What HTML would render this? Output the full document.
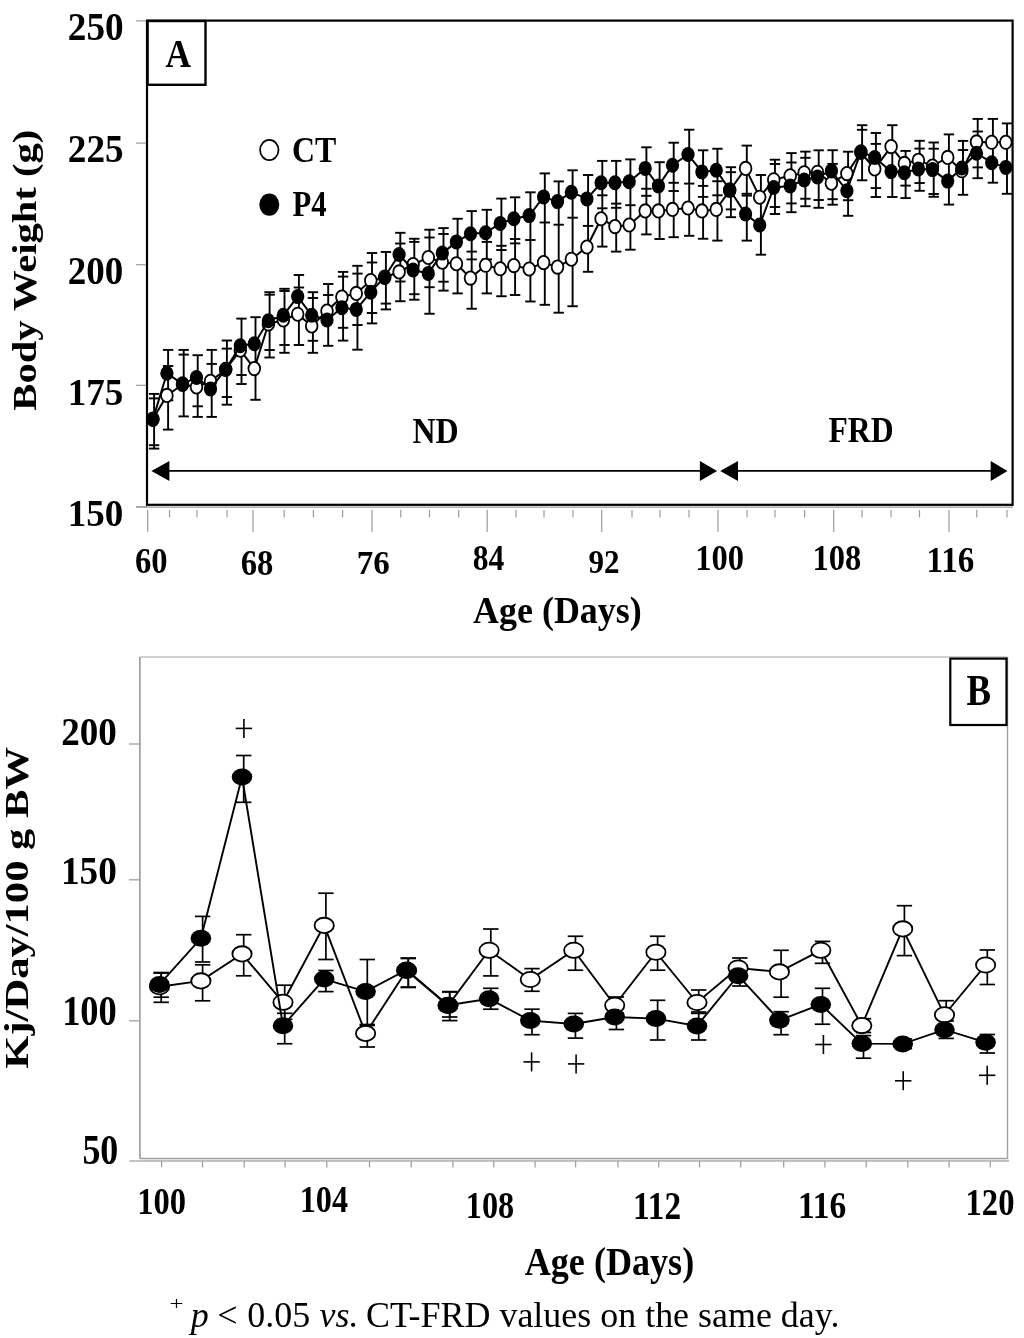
<!DOCTYPE html>
<html><head><meta charset="utf-8"><style>
html,body{margin:0;padding:0;background:#fff;}
svg{display:block;will-change:transform;}
text{font-family:"Liberation Serif",serif;fill:#000;}
</style></head><body>
<svg width="1024" height="1338" viewBox="0 0 1024 1338">
<g stroke="#9c9c9c" stroke-width="1.2" fill="none">
<line x1="136" y1="507.1" x2="1013" y2="507.1"/>
<line x1="136" y1="20.9" x2="147" y2="20.9"/>
<line x1="136" y1="143.1" x2="147" y2="143.1"/>
<line x1="136" y1="264.7" x2="147" y2="264.7"/>
<line x1="136" y1="385.3" x2="147" y2="385.3"/>
<line x1="136" y1="506.8" x2="147" y2="506.8"/>
<line x1="147.7" y1="510" x2="147.7" y2="532"/>
<line x1="253" y1="510" x2="253" y2="532"/>
<line x1="372" y1="510" x2="372" y2="532"/>
<line x1="487.2" y1="510" x2="487.2" y2="532"/>
<line x1="601.7" y1="510" x2="601.7" y2="532"/>
<line x1="718" y1="510" x2="718" y2="532"/>
<line x1="833.7" y1="510" x2="833.7" y2="532"/>
<line x1="949" y1="510" x2="949" y2="532"/>
<line x1="169.5" y1="510" x2="169.5" y2="517.5"/>
<line x1="197" y1="510" x2="197" y2="517.5"/>
<line x1="227" y1="510" x2="227" y2="517.5"/>
<line x1="284.2" y1="510" x2="284.2" y2="517.5"/>
<line x1="313.4" y1="510" x2="313.4" y2="517.5"/>
<line x1="342.6" y1="510" x2="342.6" y2="517.5"/>
<line x1="400.8" y1="510" x2="400.8" y2="517.5"/>
<line x1="429.5" y1="510" x2="429.5" y2="517.5"/>
<line x1="458.7" y1="510" x2="458.7" y2="517.5"/>
<line x1="516" y1="510" x2="516" y2="517.5"/>
<line x1="544" y1="510" x2="544" y2="517.5"/>
<line x1="573" y1="510" x2="573" y2="517.5"/>
<line x1="632" y1="510" x2="632" y2="517.5"/>
<line x1="660" y1="510" x2="660" y2="517.5"/>
<line x1="689" y1="510" x2="689" y2="517.5"/>
<line x1="747" y1="510" x2="747" y2="517.5"/>
<line x1="775" y1="510" x2="775" y2="517.5"/>
<line x1="804.6" y1="510" x2="804.6" y2="517.5"/>
<line x1="862" y1="510" x2="862" y2="517.5"/>
<line x1="891" y1="510" x2="891" y2="517.5"/>
<line x1="919.5" y1="510" x2="919.5" y2="517.5"/>
<line x1="976.8" y1="510" x2="976.8" y2="517.5"/>
<line x1="1007" y1="510" x2="1007" y2="517.5"/>
</g>
<rect x="147" y="20.6" width="865.6" height="484.2" fill="none" stroke="#000" stroke-width="2.2"/>
<rect x="147.6" y="21" width="57.9" height="63.8" fill="none" stroke="#000" stroke-width="2.4"/>
<ellipse cx="269.3" cy="150" rx="9.2" ry="10.1" fill="#fff" stroke="#000" stroke-width="1.7"/>
<ellipse cx="269.3" cy="204.6" rx="10" ry="11.2" fill="#000"/>
<g stroke="#000" stroke-width="1.8">
<line x1="165" y1="470.9" x2="702" y2="470.9"/>
<line x1="735" y1="470.9" x2="993" y2="470.9"/>
</g>
<g fill="#000">
<polygon points="151.4,470.9 169.4,461 169.4,481"/>
<polygon points="717.1,470.9 699.9,461.1 699.9,481"/>
<polygon points="720.2,470.9 738,461.1 738,481"/>
<polygon points="1007.5,470.9 990.7,461.1 990.7,481"/>
</g>
<g stroke="#000" stroke-width="1.9" fill="none">
<line x1="154.1" y1="393.9" x2="154.1" y2="448.6"/>
<line x1="148.9" y1="393.9" x2="159.29999999999998" y2="393.9"/>
<line x1="148.9" y1="398.4" x2="159.29999999999998" y2="398.4"/>
<line x1="148.9" y1="445.2" x2="159.29999999999998" y2="445.2"/>
<line x1="148.9" y1="448.6" x2="159.29999999999998" y2="448.6"/>
<line x1="168.1" y1="349.9" x2="168.1" y2="429.6"/>
<line x1="162.9" y1="349.9" x2="173.29999999999998" y2="349.9"/>
<line x1="162.9" y1="366" x2="173.29999999999998" y2="366"/>
<line x1="162.9" y1="400.3" x2="173.29999999999998" y2="400.3"/>
<line x1="162.9" y1="429.6" x2="173.29999999999998" y2="429.6"/>
<line x1="183.7" y1="349.9" x2="183.7" y2="416.4"/>
<line x1="178.5" y1="349.9" x2="188.89999999999998" y2="349.9"/>
<line x1="178.5" y1="354.6" x2="188.89999999999998" y2="354.6"/>
<line x1="178.5" y1="416.4" x2="188.89999999999998" y2="416.4"/>
<line x1="197.7" y1="355.2" x2="197.7" y2="416.9"/>
<line x1="192.5" y1="355.2" x2="202.89999999999998" y2="355.2"/>
<line x1="192.5" y1="406.3" x2="202.89999999999998" y2="406.3"/>
<line x1="192.5" y1="416.9" x2="202.89999999999998" y2="416.9"/>
<line x1="211.7" y1="349.9" x2="211.7" y2="416.9"/>
<line x1="206.5" y1="349.9" x2="216.89999999999998" y2="349.9"/>
<line x1="206.5" y1="363.9" x2="216.89999999999998" y2="363.9"/>
<line x1="206.5" y1="416.9" x2="216.89999999999998" y2="416.9"/>
<line x1="226.89999999999998" y1="340.5" x2="226.89999999999998" y2="404.7"/>
<line x1="221.7" y1="340.5" x2="232.09999999999997" y2="340.5"/>
<line x1="221.7" y1="348.6" x2="232.09999999999997" y2="348.6"/>
<line x1="221.7" y1="397" x2="232.09999999999997" y2="397"/>
<line x1="221.7" y1="404.7" x2="232.09999999999997" y2="404.7"/>
<line x1="241.5" y1="318.6" x2="241.5" y2="384.0"/>
<line x1="236.3" y1="318.6" x2="246.7" y2="318.6"/>
<line x1="236.3" y1="347" x2="246.7" y2="347"/>
<line x1="236.3" y1="375.0" x2="246.7" y2="375.0"/>
<line x1="236.3" y1="384.0" x2="246.7" y2="384.0"/>
<line x1="255.5" y1="317.2" x2="255.5" y2="399.8"/>
<line x1="250.3" y1="317.2" x2="260.7" y2="317.2"/>
<line x1="250.3" y1="399.8" x2="260.7" y2="399.8"/>
<line x1="269.59999999999997" y1="292.2" x2="269.59999999999997" y2="357.5"/>
<line x1="264.4" y1="292.2" x2="274.79999999999995" y2="292.2"/>
<line x1="264.4" y1="294.7" x2="274.79999999999995" y2="294.7"/>
<line x1="264.4" y1="350" x2="274.79999999999995" y2="350"/>
<line x1="264.4" y1="357.5" x2="274.79999999999995" y2="357.5"/>
<line x1="284.5" y1="288.8" x2="284.5" y2="352.8"/>
<line x1="279.3" y1="288.8" x2="289.7" y2="288.8"/>
<line x1="279.3" y1="291" x2="289.7" y2="291"/>
<line x1="279.3" y1="345" x2="289.7" y2="345"/>
<line x1="279.3" y1="352.8" x2="289.7" y2="352.8"/>
<line x1="298.9" y1="275" x2="298.9" y2="345"/>
<line x1="293.7" y1="275" x2="304.09999999999997" y2="275"/>
<line x1="293.7" y1="287.5" x2="304.09999999999997" y2="287.5"/>
<line x1="293.7" y1="345" x2="304.09999999999997" y2="345"/>
<line x1="312.9" y1="292.2" x2="312.9" y2="352.8"/>
<line x1="307.7" y1="292.2" x2="318.09999999999997" y2="292.2"/>
<line x1="307.7" y1="298" x2="318.09999999999997" y2="298"/>
<line x1="307.7" y1="340.8" x2="318.09999999999997" y2="340.8"/>
<line x1="307.7" y1="352.8" x2="318.09999999999997" y2="352.8"/>
<line x1="328.2" y1="284" x2="328.2" y2="345.8"/>
<line x1="323.0" y1="284" x2="333.4" y2="284"/>
<line x1="323.0" y1="295" x2="333.4" y2="295"/>
<line x1="323.0" y1="345.8" x2="333.4" y2="345.8"/>
<line x1="343.09999999999997" y1="271.9" x2="343.09999999999997" y2="340.6"/>
<line x1="337.9" y1="271.9" x2="348.29999999999995" y2="271.9"/>
<line x1="337.9" y1="276.6" x2="348.29999999999995" y2="276.6"/>
<line x1="337.9" y1="327.8" x2="348.29999999999995" y2="327.8"/>
<line x1="337.9" y1="340.6" x2="348.29999999999995" y2="340.6"/>
<line x1="357.45" y1="265.8" x2="357.45" y2="349.7"/>
<line x1="352.25" y1="265.8" x2="362.65" y2="265.8"/>
<line x1="352.25" y1="273.6" x2="362.65" y2="273.6"/>
<line x1="352.25" y1="325" x2="362.65" y2="325"/>
<line x1="352.25" y1="349.7" x2="362.65" y2="349.7"/>
<line x1="372.0" y1="253" x2="372.0" y2="323.4"/>
<line x1="366.8" y1="253" x2="377.2" y2="253"/>
<line x1="366.8" y1="262.5" x2="377.2" y2="262.5"/>
<line x1="366.8" y1="313" x2="377.2" y2="313"/>
<line x1="366.8" y1="323.4" x2="377.2" y2="323.4"/>
<line x1="385.9" y1="252" x2="385.9" y2="309.4"/>
<line x1="380.7" y1="252" x2="391.09999999999997" y2="252"/>
<line x1="380.7" y1="303.6" x2="391.09999999999997" y2="303.6"/>
<line x1="380.7" y1="309.4" x2="391.09999999999997" y2="309.4"/>
<line x1="400.3" y1="232.8" x2="400.3" y2="301.25"/>
<line x1="395.1" y1="232.8" x2="405.5" y2="232.8"/>
<line x1="395.1" y1="243.5" x2="405.5" y2="243.5"/>
<line x1="395.1" y1="281.5" x2="405.5" y2="281.5"/>
<line x1="395.1" y1="301.25" x2="405.5" y2="301.25"/>
<line x1="414.3" y1="238.75" x2="414.3" y2="299.7"/>
<line x1="409.1" y1="238.75" x2="419.5" y2="238.75"/>
<line x1="409.1" y1="241.9" x2="419.5" y2="241.9"/>
<line x1="409.1" y1="294.2" x2="419.5" y2="294.2"/>
<line x1="409.1" y1="299.7" x2="419.5" y2="299.7"/>
<line x1="429.5" y1="229.7" x2="429.5" y2="313.75"/>
<line x1="424.3" y1="229.7" x2="434.7" y2="229.7"/>
<line x1="424.3" y1="237.5" x2="434.7" y2="237.5"/>
<line x1="424.3" y1="287.2" x2="434.7" y2="287.2"/>
<line x1="424.3" y1="313.75" x2="434.7" y2="313.75"/>
<line x1="443.5" y1="228.1" x2="443.5" y2="290.6"/>
<line x1="438.3" y1="228.1" x2="448.7" y2="228.1"/>
<line x1="438.3" y1="234" x2="448.7" y2="234"/>
<line x1="438.3" y1="281.7" x2="448.7" y2="281.7"/>
<line x1="438.3" y1="290.6" x2="448.7" y2="290.6"/>
<line x1="457.59999999999997" y1="218.75" x2="457.59999999999997" y2="293.4"/>
<line x1="452.4" y1="218.75" x2="462.79999999999995" y2="218.75"/>
<line x1="452.4" y1="293.4" x2="462.79999999999995" y2="293.4"/>
<line x1="471.7" y1="211.1" x2="471.7" y2="308.75"/>
<line x1="466.5" y1="211.1" x2="476.9" y2="211.1"/>
<line x1="466.5" y1="251.6" x2="476.9" y2="251.6"/>
<line x1="466.5" y1="259.4" x2="476.9" y2="259.4"/>
<line x1="466.5" y1="308.75" x2="476.9" y2="308.75"/>
<line x1="486.8" y1="209.8" x2="486.8" y2="293.4"/>
<line x1="481.6" y1="209.8" x2="492.0" y2="209.8"/>
<line x1="481.6" y1="241.9" x2="492.0" y2="241.9"/>
<line x1="481.6" y1="259.4" x2="492.0" y2="259.4"/>
<line x1="481.6" y1="293.4" x2="492.0" y2="293.4"/>
<line x1="501.4" y1="198.6" x2="501.4" y2="296.25"/>
<line x1="496.2" y1="198.6" x2="506.59999999999997" y2="198.6"/>
<line x1="496.2" y1="245.8" x2="506.59999999999997" y2="245.8"/>
<line x1="496.2" y1="250" x2="506.59999999999997" y2="250"/>
<line x1="496.2" y1="296.25" x2="506.59999999999997" y2="296.25"/>
<line x1="515.1" y1="197.3" x2="515.1" y2="295"/>
<line x1="509.90000000000003" y1="197.3" x2="520.3000000000001" y2="197.3"/>
<line x1="509.90000000000003" y1="239" x2="520.3000000000001" y2="239"/>
<line x1="509.90000000000003" y1="243.4" x2="520.3000000000001" y2="243.4"/>
<line x1="509.90000000000003" y1="295" x2="520.3000000000001" y2="295"/>
<line x1="530.4000000000001" y1="192.3" x2="530.4000000000001" y2="301.5"/>
<line x1="525.2" y1="192.3" x2="535.6000000000001" y2="192.3"/>
<line x1="525.2" y1="240" x2="535.6000000000001" y2="240"/>
<line x1="525.2" y1="301.5" x2="535.6000000000001" y2="301.5"/>
<line x1="544.8000000000001" y1="173.4" x2="544.8000000000001" y2="304.8"/>
<line x1="539.6" y1="173.4" x2="550.0000000000001" y2="173.4"/>
<line x1="539.6" y1="222.5" x2="550.0000000000001" y2="222.5"/>
<line x1="539.6" y1="304.8" x2="550.0000000000001" y2="304.8"/>
<line x1="558.7" y1="181.4" x2="558.7" y2="312.7"/>
<line x1="553.5" y1="181.4" x2="563.9000000000001" y2="181.4"/>
<line x1="553.5" y1="224.7" x2="563.9000000000001" y2="224.7"/>
<line x1="553.5" y1="312.7" x2="563.9000000000001" y2="312.7"/>
<line x1="572.6" y1="170.3" x2="572.6" y2="306.25"/>
<line x1="567.4" y1="170.3" x2="577.8000000000001" y2="170.3"/>
<line x1="567.4" y1="217.7" x2="577.8000000000001" y2="217.7"/>
<line x1="567.4" y1="306.25" x2="577.8000000000001" y2="306.25"/>
<line x1="588.1" y1="175" x2="588.1" y2="271.8"/>
<line x1="582.9" y1="175" x2="593.3000000000001" y2="175"/>
<line x1="582.9" y1="225.9" x2="593.3000000000001" y2="225.9"/>
<line x1="582.9" y1="271.8" x2="593.3000000000001" y2="271.8"/>
<line x1="602.3000000000001" y1="160.9" x2="602.3000000000001" y2="246.6"/>
<line x1="597.1" y1="160.9" x2="607.5000000000001" y2="160.9"/>
<line x1="597.1" y1="195.3" x2="607.5000000000001" y2="195.3"/>
<line x1="597.1" y1="208.3" x2="607.5000000000001" y2="208.3"/>
<line x1="597.1" y1="246.6" x2="607.5000000000001" y2="246.6"/>
<line x1="616.2" y1="160.9" x2="616.2" y2="251.6"/>
<line x1="611.0" y1="160.9" x2="621.4000000000001" y2="160.9"/>
<line x1="611.0" y1="203.6" x2="621.4000000000001" y2="203.6"/>
<line x1="611.0" y1="207.8" x2="621.4000000000001" y2="207.8"/>
<line x1="611.0" y1="251.6" x2="621.4000000000001" y2="251.6"/>
<line x1="630.4000000000001" y1="159.4" x2="630.4000000000001" y2="249.7"/>
<line x1="625.2" y1="159.4" x2="635.6000000000001" y2="159.4"/>
<line x1="625.2" y1="205.2" x2="635.6000000000001" y2="205.2"/>
<line x1="625.2" y1="249.7" x2="635.6000000000001" y2="249.7"/>
<line x1="646.4000000000001" y1="147.3" x2="646.4000000000001" y2="234.4"/>
<line x1="641.2" y1="147.3" x2="651.6000000000001" y2="147.3"/>
<line x1="641.2" y1="188.75" x2="651.6000000000001" y2="188.75"/>
<line x1="641.2" y1="195.8" x2="651.6000000000001" y2="195.8"/>
<line x1="641.2" y1="234.4" x2="651.6000000000001" y2="234.4"/>
<line x1="659.6" y1="162.2" x2="659.6" y2="239"/>
<line x1="654.4" y1="162.2" x2="664.8000000000001" y2="162.2"/>
<line x1="654.4" y1="239" x2="664.8000000000001" y2="239"/>
<line x1="673.7" y1="142.7" x2="673.7" y2="237.2"/>
<line x1="668.5" y1="142.7" x2="678.9000000000001" y2="142.7"/>
<line x1="668.5" y1="182.8" x2="678.9000000000001" y2="182.8"/>
<line x1="668.5" y1="191" x2="678.9000000000001" y2="191"/>
<line x1="668.5" y1="237.2" x2="678.9000000000001" y2="237.2"/>
<line x1="689.2" y1="129.7" x2="689.2" y2="235.8"/>
<line x1="684.0" y1="129.7" x2="694.4000000000001" y2="129.7"/>
<line x1="684.0" y1="183.6" x2="694.4000000000001" y2="183.6"/>
<line x1="684.0" y1="235.8" x2="694.4000000000001" y2="235.8"/>
<line x1="703.1" y1="150.3" x2="703.1" y2="238.75"/>
<line x1="697.9" y1="150.3" x2="708.3000000000001" y2="150.3"/>
<line x1="697.9" y1="185.9" x2="708.3000000000001" y2="185.9"/>
<line x1="697.9" y1="196.9" x2="708.3000000000001" y2="196.9"/>
<line x1="697.9" y1="238.75" x2="708.3000000000001" y2="238.75"/>
<line x1="717.45" y1="148.75" x2="717.45" y2="240.6"/>
<line x1="712.25" y1="148.75" x2="722.6500000000001" y2="148.75"/>
<line x1="712.25" y1="181.25" x2="722.6500000000001" y2="181.25"/>
<line x1="712.25" y1="195.3" x2="722.6500000000001" y2="195.3"/>
<line x1="712.25" y1="240.6" x2="722.6500000000001" y2="240.6"/>
<line x1="730.9000000000001" y1="167.2" x2="730.9000000000001" y2="217.2"/>
<line x1="725.7" y1="167.2" x2="736.1000000000001" y2="167.2"/>
<line x1="725.7" y1="172.2" x2="736.1000000000001" y2="172.2"/>
<line x1="725.7" y1="209.4" x2="736.1000000000001" y2="209.4"/>
<line x1="725.7" y1="217.2" x2="736.1000000000001" y2="217.2"/>
<line x1="746.8000000000001" y1="145.6" x2="746.8000000000001" y2="240.6"/>
<line x1="741.6" y1="145.6" x2="752.0000000000001" y2="145.6"/>
<line x1="741.6" y1="193.75" x2="752.0000000000001" y2="193.75"/>
<line x1="741.6" y1="195.6" x2="752.0000000000001" y2="195.6"/>
<line x1="741.6" y1="240.6" x2="752.0000000000001" y2="240.6"/>
<line x1="760.9000000000001" y1="175" x2="760.9000000000001" y2="254.7"/>
<line x1="755.7" y1="175" x2="766.1000000000001" y2="175"/>
<line x1="755.7" y1="254.7" x2="766.1000000000001" y2="254.7"/>
<line x1="774.95" y1="159.7" x2="774.95" y2="214"/>
<line x1="769.75" y1="159.7" x2="780.1500000000001" y2="159.7"/>
<line x1="769.75" y1="164" x2="780.1500000000001" y2="164"/>
<line x1="769.75" y1="207" x2="780.1500000000001" y2="207"/>
<line x1="769.75" y1="214" x2="780.1500000000001" y2="214"/>
<line x1="791.4000000000001" y1="153.1" x2="791.4000000000001" y2="212.2"/>
<line x1="786.2" y1="153.1" x2="796.6000000000001" y2="153.1"/>
<line x1="786.2" y1="162.5" x2="796.6000000000001" y2="162.5"/>
<line x1="786.2" y1="203.4" x2="796.6000000000001" y2="203.4"/>
<line x1="786.2" y1="212.2" x2="796.6000000000001" y2="212.2"/>
<line x1="805.4000000000001" y1="151.6" x2="805.4000000000001" y2="206.25"/>
<line x1="800.2" y1="151.6" x2="810.6000000000001" y2="151.6"/>
<line x1="800.2" y1="157.8" x2="810.6000000000001" y2="157.8"/>
<line x1="800.2" y1="198.75" x2="810.6000000000001" y2="198.75"/>
<line x1="800.2" y1="206.25" x2="810.6000000000001" y2="206.25"/>
<line x1="818.7" y1="150.3" x2="818.7" y2="207.8"/>
<line x1="813.5" y1="150.3" x2="823.9000000000001" y2="150.3"/>
<line x1="813.5" y1="200" x2="823.9000000000001" y2="200"/>
<line x1="813.5" y1="207.8" x2="823.9000000000001" y2="207.8"/>
<line x1="832.6" y1="150.2" x2="832.6" y2="204.7"/>
<line x1="827.4" y1="150.2" x2="837.8000000000001" y2="150.2"/>
<line x1="827.4" y1="163.9" x2="837.8000000000001" y2="163.9"/>
<line x1="827.4" y1="199.2" x2="837.8000000000001" y2="199.2"/>
<line x1="827.4" y1="204.7" x2="837.8000000000001" y2="204.7"/>
<line x1="848.1" y1="151.7" x2="848.1" y2="215.8"/>
<line x1="842.9" y1="151.7" x2="853.3000000000001" y2="151.7"/>
<line x1="842.9" y1="200.2" x2="853.3000000000001" y2="200.2"/>
<line x1="842.9" y1="215.8" x2="853.3000000000001" y2="215.8"/>
<line x1="862.1" y1="125.2" x2="862.1" y2="180.3"/>
<line x1="856.9" y1="125.2" x2="867.3000000000001" y2="125.2"/>
<line x1="856.9" y1="129.8" x2="867.3000000000001" y2="129.8"/>
<line x1="856.9" y1="180.3" x2="867.3000000000001" y2="180.3"/>
<line x1="875.9000000000001" y1="133" x2="875.9000000000001" y2="197"/>
<line x1="870.7" y1="133" x2="881.1000000000001" y2="133"/>
<line x1="870.7" y1="143.9" x2="881.1000000000001" y2="143.9"/>
<line x1="870.7" y1="188.1" x2="881.1000000000001" y2="188.1"/>
<line x1="870.7" y1="197" x2="881.1000000000001" y2="197"/>
<line x1="892.3000000000001" y1="125.2" x2="892.3000000000001" y2="197"/>
<line x1="887.1" y1="125.2" x2="897.5000000000001" y2="125.2"/>
<line x1="887.1" y1="197" x2="897.5000000000001" y2="197"/>
<line x1="905.6" y1="150.9" x2="905.6" y2="198.1"/>
<line x1="900.4" y1="150.9" x2="910.8000000000001" y2="150.9"/>
<line x1="900.4" y1="185.6" x2="910.8000000000001" y2="185.6"/>
<line x1="900.4" y1="198.1" x2="910.8000000000001" y2="198.1"/>
<line x1="919.6" y1="140.8" x2="919.6" y2="190.8"/>
<line x1="914.4" y1="140.8" x2="924.8000000000001" y2="140.8"/>
<line x1="914.4" y1="148.6" x2="924.8000000000001" y2="148.6"/>
<line x1="914.4" y1="183" x2="924.8000000000001" y2="183"/>
<line x1="914.4" y1="190.8" x2="924.8000000000001" y2="190.8"/>
<line x1="933.7" y1="142.5" x2="933.7" y2="196.8"/>
<line x1="928.5" y1="142.5" x2="938.9000000000001" y2="142.5"/>
<line x1="928.5" y1="148.7" x2="938.9000000000001" y2="148.7"/>
<line x1="928.5" y1="194" x2="938.9000000000001" y2="194"/>
<line x1="928.5" y1="196.8" x2="938.9000000000001" y2="196.8"/>
<line x1="948.9000000000001" y1="134.4" x2="948.9000000000001" y2="204.6"/>
<line x1="943.7" y1="134.4" x2="954.1000000000001" y2="134.4"/>
<line x1="943.7" y1="204.6" x2="954.1000000000001" y2="204.6"/>
<line x1="963.0" y1="140.9" x2="963.0" y2="194.8"/>
<line x1="957.8" y1="140.9" x2="968.2" y2="140.9"/>
<line x1="957.8" y1="150" x2="968.2" y2="150"/>
<line x1="957.8" y1="194.8" x2="968.2" y2="194.8"/>
<line x1="977.7" y1="118.9" x2="977.7" y2="178.2"/>
<line x1="972.5" y1="118.9" x2="982.9000000000001" y2="118.9"/>
<line x1="972.5" y1="131.5" x2="982.9000000000001" y2="131.5"/>
<line x1="972.5" y1="167.4" x2="982.9000000000001" y2="167.4"/>
<line x1="972.5" y1="178.2" x2="982.9000000000001" y2="178.2"/>
<line x1="992.9000000000001" y1="118.9" x2="992.9000000000001" y2="182.7"/>
<line x1="987.7" y1="118.9" x2="998.1000000000001" y2="118.9"/>
<line x1="987.7" y1="182.7" x2="998.1000000000001" y2="182.7"/>
<line x1="1007.0" y1="123.4" x2="1007.0" y2="193.8"/>
<line x1="1001.8" y1="123.4" x2="1012.2" y2="123.4"/>
<line x1="1001.8" y1="193.8" x2="1012.2" y2="193.8"/>
</g>
<polyline points="152.9,419.0 166.9,395.4 182.5,384.5 196.5,387 210.5,381.3 225.7,369.5 240.3,350.2 254.3,368.6 268.4,324 283.3,320 297.7,314.2 311.7,326 327.0,311 341.9,297 356.25,293.4 370.8,280.6 384.7,277.5 399.1,271.9 413.1,264.5 428.3,257.5 442.3,262.2 456.4,263.75 470.5,278.1 485.6,265.3 500.2,268.75 513.9,265.6 529.2,269 543.6,262.6 557.5,267.1 571.4,259.2 586.9,247 601.1,218.75 615.0,226.6 629.2,225 645.2,210.9 658.4,210.9 672.5,209.4 688.0,208.0 701.9,210.9 716.25,209.4 729.7,190.5 745.6,168.4 759.7,197.2 773.75,179.7 790.2,175.8 804.2,172.7 817.5,172.2 831.4,183.2 846.9,173.6 860.9,152.5 874.7,168.9 891.1,146.6 904.4,163.4 918.4,160.3 932.5,166.0 947.7,157.4 961.8,170.8 976.5,141.9 991.7,142.3 1005.8,142.3" fill="none" stroke="#000" stroke-width="2"/>
<ellipse cx="152.9" cy="419.0" rx="5.85" ry="6.65" fill="#fff" stroke="#000" stroke-width="1.8"/>
<ellipse cx="166.9" cy="395.4" rx="5.85" ry="6.65" fill="#fff" stroke="#000" stroke-width="1.8"/>
<ellipse cx="182.5" cy="384.5" rx="5.85" ry="6.65" fill="#fff" stroke="#000" stroke-width="1.8"/>
<ellipse cx="196.5" cy="387" rx="5.85" ry="6.65" fill="#fff" stroke="#000" stroke-width="1.8"/>
<ellipse cx="210.5" cy="381.3" rx="5.85" ry="6.65" fill="#fff" stroke="#000" stroke-width="1.8"/>
<ellipse cx="225.7" cy="369.5" rx="5.85" ry="6.65" fill="#fff" stroke="#000" stroke-width="1.8"/>
<ellipse cx="240.3" cy="350.2" rx="5.85" ry="6.65" fill="#fff" stroke="#000" stroke-width="1.8"/>
<ellipse cx="254.3" cy="368.6" rx="5.85" ry="6.65" fill="#fff" stroke="#000" stroke-width="1.8"/>
<ellipse cx="268.4" cy="324" rx="5.85" ry="6.65" fill="#fff" stroke="#000" stroke-width="1.8"/>
<ellipse cx="283.3" cy="320" rx="5.85" ry="6.65" fill="#fff" stroke="#000" stroke-width="1.8"/>
<ellipse cx="297.7" cy="314.2" rx="5.85" ry="6.65" fill="#fff" stroke="#000" stroke-width="1.8"/>
<ellipse cx="311.7" cy="326" rx="5.85" ry="6.65" fill="#fff" stroke="#000" stroke-width="1.8"/>
<ellipse cx="327.0" cy="311" rx="5.85" ry="6.65" fill="#fff" stroke="#000" stroke-width="1.8"/>
<ellipse cx="341.9" cy="297" rx="5.85" ry="6.65" fill="#fff" stroke="#000" stroke-width="1.8"/>
<ellipse cx="356.25" cy="293.4" rx="5.85" ry="6.65" fill="#fff" stroke="#000" stroke-width="1.8"/>
<ellipse cx="370.8" cy="280.6" rx="5.85" ry="6.65" fill="#fff" stroke="#000" stroke-width="1.8"/>
<ellipse cx="384.7" cy="277.5" rx="5.85" ry="6.65" fill="#fff" stroke="#000" stroke-width="1.8"/>
<ellipse cx="399.1" cy="271.9" rx="5.85" ry="6.65" fill="#fff" stroke="#000" stroke-width="1.8"/>
<ellipse cx="413.1" cy="264.5" rx="5.85" ry="6.65" fill="#fff" stroke="#000" stroke-width="1.8"/>
<ellipse cx="428.3" cy="257.5" rx="5.85" ry="6.65" fill="#fff" stroke="#000" stroke-width="1.8"/>
<ellipse cx="442.3" cy="262.2" rx="5.85" ry="6.65" fill="#fff" stroke="#000" stroke-width="1.8"/>
<ellipse cx="456.4" cy="263.75" rx="5.85" ry="6.65" fill="#fff" stroke="#000" stroke-width="1.8"/>
<ellipse cx="470.5" cy="278.1" rx="5.85" ry="6.65" fill="#fff" stroke="#000" stroke-width="1.8"/>
<ellipse cx="485.6" cy="265.3" rx="5.85" ry="6.65" fill="#fff" stroke="#000" stroke-width="1.8"/>
<ellipse cx="500.2" cy="268.75" rx="5.85" ry="6.65" fill="#fff" stroke="#000" stroke-width="1.8"/>
<ellipse cx="513.9" cy="265.6" rx="5.85" ry="6.65" fill="#fff" stroke="#000" stroke-width="1.8"/>
<ellipse cx="529.2" cy="269" rx="5.85" ry="6.65" fill="#fff" stroke="#000" stroke-width="1.8"/>
<ellipse cx="543.6" cy="262.6" rx="5.85" ry="6.65" fill="#fff" stroke="#000" stroke-width="1.8"/>
<ellipse cx="557.5" cy="267.1" rx="5.85" ry="6.65" fill="#fff" stroke="#000" stroke-width="1.8"/>
<ellipse cx="571.4" cy="259.2" rx="5.85" ry="6.65" fill="#fff" stroke="#000" stroke-width="1.8"/>
<ellipse cx="586.9" cy="247" rx="5.85" ry="6.65" fill="#fff" stroke="#000" stroke-width="1.8"/>
<ellipse cx="601.1" cy="218.75" rx="5.85" ry="6.65" fill="#fff" stroke="#000" stroke-width="1.8"/>
<ellipse cx="615.0" cy="226.6" rx="5.85" ry="6.65" fill="#fff" stroke="#000" stroke-width="1.8"/>
<ellipse cx="629.2" cy="225" rx="5.85" ry="6.65" fill="#fff" stroke="#000" stroke-width="1.8"/>
<ellipse cx="645.2" cy="210.9" rx="5.85" ry="6.65" fill="#fff" stroke="#000" stroke-width="1.8"/>
<ellipse cx="658.4" cy="210.9" rx="5.85" ry="6.65" fill="#fff" stroke="#000" stroke-width="1.8"/>
<ellipse cx="672.5" cy="209.4" rx="5.85" ry="6.65" fill="#fff" stroke="#000" stroke-width="1.8"/>
<ellipse cx="688.0" cy="208.0" rx="5.85" ry="6.65" fill="#fff" stroke="#000" stroke-width="1.8"/>
<ellipse cx="701.9" cy="210.9" rx="5.85" ry="6.65" fill="#fff" stroke="#000" stroke-width="1.8"/>
<ellipse cx="716.25" cy="209.4" rx="5.85" ry="6.65" fill="#fff" stroke="#000" stroke-width="1.8"/>
<ellipse cx="729.7" cy="190.5" rx="5.85" ry="6.65" fill="#fff" stroke="#000" stroke-width="1.8"/>
<ellipse cx="745.6" cy="168.4" rx="5.85" ry="6.65" fill="#fff" stroke="#000" stroke-width="1.8"/>
<ellipse cx="759.7" cy="197.2" rx="5.85" ry="6.65" fill="#fff" stroke="#000" stroke-width="1.8"/>
<ellipse cx="773.75" cy="179.7" rx="5.85" ry="6.65" fill="#fff" stroke="#000" stroke-width="1.8"/>
<ellipse cx="790.2" cy="175.8" rx="5.85" ry="6.65" fill="#fff" stroke="#000" stroke-width="1.8"/>
<ellipse cx="804.2" cy="172.7" rx="5.85" ry="6.65" fill="#fff" stroke="#000" stroke-width="1.8"/>
<ellipse cx="817.5" cy="172.2" rx="5.85" ry="6.65" fill="#fff" stroke="#000" stroke-width="1.8"/>
<ellipse cx="831.4" cy="183.2" rx="5.85" ry="6.65" fill="#fff" stroke="#000" stroke-width="1.8"/>
<ellipse cx="846.9" cy="173.6" rx="5.85" ry="6.65" fill="#fff" stroke="#000" stroke-width="1.8"/>
<ellipse cx="860.9" cy="152.5" rx="5.85" ry="6.65" fill="#fff" stroke="#000" stroke-width="1.8"/>
<ellipse cx="874.7" cy="168.9" rx="5.85" ry="6.65" fill="#fff" stroke="#000" stroke-width="1.8"/>
<ellipse cx="891.1" cy="146.6" rx="5.85" ry="6.65" fill="#fff" stroke="#000" stroke-width="1.8"/>
<ellipse cx="904.4" cy="163.4" rx="5.85" ry="6.65" fill="#fff" stroke="#000" stroke-width="1.8"/>
<ellipse cx="918.4" cy="160.3" rx="5.85" ry="6.65" fill="#fff" stroke="#000" stroke-width="1.8"/>
<ellipse cx="932.5" cy="166.0" rx="5.85" ry="6.65" fill="#fff" stroke="#000" stroke-width="1.8"/>
<ellipse cx="947.7" cy="157.4" rx="5.85" ry="6.65" fill="#fff" stroke="#000" stroke-width="1.8"/>
<ellipse cx="961.8" cy="170.8" rx="5.85" ry="6.65" fill="#fff" stroke="#000" stroke-width="1.8"/>
<ellipse cx="976.5" cy="141.9" rx="5.85" ry="6.65" fill="#fff" stroke="#000" stroke-width="1.8"/>
<ellipse cx="991.7" cy="142.3" rx="5.85" ry="6.65" fill="#fff" stroke="#000" stroke-width="1.8"/>
<ellipse cx="1005.8" cy="142.3" rx="5.85" ry="6.65" fill="#fff" stroke="#000" stroke-width="1.8"/>
<polyline points="152.9,419.5 166.9,373.3 182.5,383.8 196.5,377.5 210.5,388.9 225.7,369.2 240.3,345.7 254.3,343.8 268.4,320.8 283.3,315.3 297.7,296.6 311.7,315.3 327.0,320 341.9,307.8 356.25,309.4 370.8,292.2 384.7,277 399.1,254.5 413.1,270 428.3,273.4 442.3,253.1 456.4,241.9 470.5,233.75 485.6,232.8 500.2,223.4 513.9,218.75 529.2,215.6 543.6,196.9 557.5,201.6 571.4,192.2 586.9,198.9 601.1,182.8 615.0,182.8 629.2,181.7 645.2,168.4 658.4,185.9 672.5,165.3 688.0,154.5 701.9,171.9 716.25,170.3 729.7,189.8 745.6,214 759.7,225 773.75,187.5 790.2,185.9 804.2,180 817.5,176.9 831.4,170.9 846.9,190.8 860.9,151.7 874.7,157.5 891.1,171.6 904.4,172.8 918.4,168.9 932.5,169.6 947.7,181.1 961.8,168.0 976.5,153.2 991.7,162.7 1005.8,167.4" fill="none" stroke="#000" stroke-width="2"/>
<ellipse cx="152.9" cy="419.5" rx="6.6" ry="7.5" fill="#000"/>
<ellipse cx="166.9" cy="373.3" rx="6.6" ry="7.5" fill="#000"/>
<ellipse cx="182.5" cy="383.8" rx="6.6" ry="7.5" fill="#000"/>
<ellipse cx="196.5" cy="377.5" rx="6.6" ry="7.5" fill="#000"/>
<ellipse cx="210.5" cy="388.9" rx="6.6" ry="7.5" fill="#000"/>
<ellipse cx="225.7" cy="369.2" rx="6.6" ry="7.5" fill="#000"/>
<ellipse cx="240.3" cy="345.7" rx="6.6" ry="7.5" fill="#000"/>
<ellipse cx="254.3" cy="343.8" rx="6.6" ry="7.5" fill="#000"/>
<ellipse cx="268.4" cy="320.8" rx="6.6" ry="7.5" fill="#000"/>
<ellipse cx="283.3" cy="315.3" rx="6.6" ry="7.5" fill="#000"/>
<ellipse cx="297.7" cy="296.6" rx="6.6" ry="7.5" fill="#000"/>
<ellipse cx="311.7" cy="315.3" rx="6.6" ry="7.5" fill="#000"/>
<ellipse cx="327.0" cy="320" rx="6.6" ry="7.5" fill="#000"/>
<ellipse cx="341.9" cy="307.8" rx="6.6" ry="7.5" fill="#000"/>
<ellipse cx="356.25" cy="309.4" rx="6.6" ry="7.5" fill="#000"/>
<ellipse cx="370.8" cy="292.2" rx="6.6" ry="7.5" fill="#000"/>
<ellipse cx="384.7" cy="277" rx="6.6" ry="7.5" fill="#000"/>
<ellipse cx="399.1" cy="254.5" rx="6.6" ry="7.5" fill="#000"/>
<ellipse cx="413.1" cy="270" rx="6.6" ry="7.5" fill="#000"/>
<ellipse cx="428.3" cy="273.4" rx="6.6" ry="7.5" fill="#000"/>
<ellipse cx="442.3" cy="253.1" rx="6.6" ry="7.5" fill="#000"/>
<ellipse cx="456.4" cy="241.9" rx="6.6" ry="7.5" fill="#000"/>
<ellipse cx="470.5" cy="233.75" rx="6.6" ry="7.5" fill="#000"/>
<ellipse cx="485.6" cy="232.8" rx="6.6" ry="7.5" fill="#000"/>
<ellipse cx="500.2" cy="223.4" rx="6.6" ry="7.5" fill="#000"/>
<ellipse cx="513.9" cy="218.75" rx="6.6" ry="7.5" fill="#000"/>
<ellipse cx="529.2" cy="215.6" rx="6.6" ry="7.5" fill="#000"/>
<ellipse cx="543.6" cy="196.9" rx="6.6" ry="7.5" fill="#000"/>
<ellipse cx="557.5" cy="201.6" rx="6.6" ry="7.5" fill="#000"/>
<ellipse cx="571.4" cy="192.2" rx="6.6" ry="7.5" fill="#000"/>
<ellipse cx="586.9" cy="198.9" rx="6.6" ry="7.5" fill="#000"/>
<ellipse cx="601.1" cy="182.8" rx="6.6" ry="7.5" fill="#000"/>
<ellipse cx="615.0" cy="182.8" rx="6.6" ry="7.5" fill="#000"/>
<ellipse cx="629.2" cy="181.7" rx="6.6" ry="7.5" fill="#000"/>
<ellipse cx="645.2" cy="168.4" rx="6.6" ry="7.5" fill="#000"/>
<ellipse cx="658.4" cy="185.9" rx="6.6" ry="7.5" fill="#000"/>
<ellipse cx="672.5" cy="165.3" rx="6.6" ry="7.5" fill="#000"/>
<ellipse cx="688.0" cy="154.5" rx="6.6" ry="7.5" fill="#000"/>
<ellipse cx="701.9" cy="171.9" rx="6.6" ry="7.5" fill="#000"/>
<ellipse cx="716.25" cy="170.3" rx="6.6" ry="7.5" fill="#000"/>
<ellipse cx="729.7" cy="189.8" rx="6.6" ry="7.5" fill="#000"/>
<ellipse cx="745.6" cy="214" rx="6.6" ry="7.5" fill="#000"/>
<ellipse cx="759.7" cy="225" rx="6.6" ry="7.5" fill="#000"/>
<ellipse cx="773.75" cy="187.5" rx="6.6" ry="7.5" fill="#000"/>
<ellipse cx="790.2" cy="185.9" rx="6.6" ry="7.5" fill="#000"/>
<ellipse cx="804.2" cy="180" rx="6.6" ry="7.5" fill="#000"/>
<ellipse cx="817.5" cy="176.9" rx="6.6" ry="7.5" fill="#000"/>
<ellipse cx="831.4" cy="170.9" rx="6.6" ry="7.5" fill="#000"/>
<ellipse cx="846.9" cy="190.8" rx="6.6" ry="7.5" fill="#000"/>
<ellipse cx="860.9" cy="151.7" rx="6.6" ry="7.5" fill="#000"/>
<ellipse cx="874.7" cy="157.5" rx="6.6" ry="7.5" fill="#000"/>
<ellipse cx="891.1" cy="171.6" rx="6.6" ry="7.5" fill="#000"/>
<ellipse cx="904.4" cy="172.8" rx="6.6" ry="7.5" fill="#000"/>
<ellipse cx="918.4" cy="168.9" rx="6.6" ry="7.5" fill="#000"/>
<ellipse cx="932.5" cy="169.6" rx="6.6" ry="7.5" fill="#000"/>
<ellipse cx="947.7" cy="181.1" rx="6.6" ry="7.5" fill="#000"/>
<ellipse cx="961.8" cy="168.0" rx="6.6" ry="7.5" fill="#000"/>
<ellipse cx="976.5" cy="153.2" rx="6.6" ry="7.5" fill="#000"/>
<ellipse cx="991.7" cy="162.7" rx="6.6" ry="7.5" fill="#000"/>
<ellipse cx="1005.8" cy="167.4" rx="6.6" ry="7.5" fill="#000"/>
<rect x="140" y="1158.4" width="869" height="2.6" fill="#e2e2e2"/>
<g stroke-width="1.4" fill="none">
<line x1="140" y1="657" x2="1007.5" y2="657" stroke="#c0c0c0"/>
<line x1="1007.5" y1="657" x2="1007.5" y2="1158.4" stroke="#a0a0a0"/>
<line x1="140" y1="1158.4" x2="1007.5" y2="1158.4" stroke="#a0a0a0"/>
<line x1="139.9" y1="657" x2="139.9" y2="1158.4" stroke="#8a8a8a"/>
<line x1="129.4" y1="1161" x2="1009" y2="1161" stroke="#b0b0b0"/>
</g>
<g stroke="#a0a0a0" stroke-width="1.3" fill="none">
<line x1="129" y1="744" x2="140" y2="744"/>
<line x1="129" y1="879.8" x2="140" y2="879.8"/>
<line x1="129" y1="1020.8" x2="140" y2="1020.8"/>
<line x1="161.6" y1="1161" x2="161.6" y2="1167.4"/>
<line x1="202.5" y1="1161" x2="202.5" y2="1167.4"/>
<line x1="244.2" y1="1161" x2="244.2" y2="1167.4"/>
<line x1="285.1" y1="1161" x2="285.1" y2="1167.4"/>
<line x1="326.8" y1="1161" x2="326.8" y2="1167.4"/>
<line x1="369.5" y1="1161" x2="369.5" y2="1167.4"/>
<line x1="411.2" y1="1161" x2="411.2" y2="1167.4"/>
<line x1="452.9" y1="1161" x2="452.9" y2="1167.4"/>
<line x1="493.8" y1="1161" x2="493.8" y2="1167.4"/>
<line x1="535.1" y1="1161" x2="535.1" y2="1167.4"/>
<line x1="575.6" y1="1161" x2="575.6" y2="1167.4"/>
<line x1="617.9" y1="1161" x2="617.9" y2="1167.4"/>
<line x1="658.7" y1="1161" x2="658.7" y2="1167.4"/>
<line x1="699.5" y1="1161" x2="699.5" y2="1167.4"/>
<line x1="740.7" y1="1161" x2="740.7" y2="1167.4"/>
<line x1="783.7" y1="1161" x2="783.7" y2="1167.4"/>
<line x1="824.9" y1="1161" x2="824.9" y2="1167.4"/>
<line x1="866.2" y1="1161" x2="866.2" y2="1167.4"/>
<line x1="907.8" y1="1161" x2="907.8" y2="1167.4"/>
<line x1="949.1" y1="1161" x2="949.1" y2="1167.4"/>
<line x1="990.3" y1="1161" x2="990.3" y2="1167.4"/>
</g>
<rect x="950.3" y="658.6" width="56.2" height="66.4" fill="none" stroke="#000" stroke-width="2.2"/>
<g stroke="#000" stroke-width="1.7" fill="none">
<line x1="161.2" y1="973.1" x2="161.2" y2="997.2"/>
<line x1="153.5" y1="973.1" x2="168.89999999999998" y2="973.1"/>
<line x1="153.5" y1="997.2" x2="168.89999999999998" y2="997.2"/>
<line x1="161.2" y1="972.5" x2="161.2" y2="1002.3"/>
<line x1="153.5" y1="972.5" x2="168.89999999999998" y2="972.5"/>
<line x1="153.5" y1="1002.3" x2="168.89999999999998" y2="1002.3"/>
<line x1="202.6" y1="916.4" x2="202.6" y2="962.0"/>
<line x1="194.9" y1="916.4" x2="210.29999999999998" y2="916.4"/>
<line x1="194.9" y1="962.0" x2="210.29999999999998" y2="962.0"/>
<line x1="202.6" y1="964.8" x2="202.6" y2="1000.8"/>
<line x1="194.9" y1="964.8" x2="210.29999999999998" y2="964.8"/>
<line x1="194.9" y1="1000.8" x2="210.29999999999998" y2="1000.8"/>
<line x1="243.7" y1="755.5" x2="243.7" y2="802.3"/>
<line x1="236.0" y1="755.5" x2="251.39999999999998" y2="755.5"/>
<line x1="236.0" y1="802.3" x2="251.39999999999998" y2="802.3"/>
<line x1="243.7" y1="934.7" x2="243.7" y2="975.8"/>
<line x1="236.0" y1="934.7" x2="251.39999999999998" y2="934.7"/>
<line x1="236.0" y1="975.8" x2="251.39999999999998" y2="975.8"/>
<line x1="284.7" y1="1013.3" x2="284.7" y2="1043.75"/>
<line x1="277.0" y1="1013.3" x2="292.4" y2="1013.3"/>
<line x1="277.0" y1="1043.75" x2="292.4" y2="1043.75"/>
<line x1="284.7" y1="985.2" x2="284.7" y2="1019.4"/>
<line x1="277.0" y1="985.2" x2="292.4" y2="985.2"/>
<line x1="277.0" y1="1019.4" x2="292.4" y2="1019.4"/>
<line x1="325.9" y1="970.5" x2="325.9" y2="991.6"/>
<line x1="318.2" y1="970.5" x2="333.59999999999997" y2="970.5"/>
<line x1="318.2" y1="991.6" x2="333.59999999999997" y2="991.6"/>
<line x1="325.9" y1="893.2" x2="325.9" y2="959.5"/>
<line x1="318.2" y1="893.2" x2="333.59999999999997" y2="893.2"/>
<line x1="318.2" y1="959.5" x2="333.59999999999997" y2="959.5"/>
<line x1="367.3" y1="959.5" x2="367.3" y2="1024.5"/>
<line x1="359.6" y1="959.5" x2="375.0" y2="959.5"/>
<line x1="359.6" y1="1024.5" x2="375.0" y2="1024.5"/>
<line x1="367.3" y1="1025.5" x2="367.3" y2="1047"/>
<line x1="359.6" y1="1025.5" x2="375.0" y2="1025.5"/>
<line x1="359.6" y1="1047" x2="375.0" y2="1047"/>
<line x1="408.3" y1="958" x2="408.3" y2="987"/>
<line x1="400.6" y1="958" x2="416.0" y2="958"/>
<line x1="400.6" y1="987" x2="416.0" y2="987"/>
<line x1="408.3" y1="958.5" x2="408.3" y2="987.5"/>
<line x1="400.6" y1="958.5" x2="416.0" y2="958.5"/>
<line x1="400.6" y1="987.5" x2="416.0" y2="987.5"/>
<line x1="449.7" y1="991.6" x2="449.7" y2="1017"/>
<line x1="442.0" y1="991.6" x2="457.4" y2="991.6"/>
<line x1="442.0" y1="1017" x2="457.4" y2="1017"/>
<line x1="449.7" y1="992.0" x2="449.7" y2="1020.6"/>
<line x1="442.0" y1="992.0" x2="457.4" y2="992.0"/>
<line x1="442.0" y1="1020.6" x2="457.4" y2="1020.6"/>
<line x1="490.8" y1="988.3" x2="490.8" y2="1009.2"/>
<line x1="483.1" y1="988.3" x2="498.5" y2="988.3"/>
<line x1="483.1" y1="1009.2" x2="498.5" y2="1009.2"/>
<line x1="490.8" y1="929" x2="490.8" y2="975.9"/>
<line x1="483.1" y1="929" x2="498.5" y2="929"/>
<line x1="483.1" y1="975.9" x2="498.5" y2="975.9"/>
<line x1="532.0" y1="1009.2" x2="532.0" y2="1034.7"/>
<line x1="524.3" y1="1009.2" x2="539.7" y2="1009.2"/>
<line x1="524.3" y1="1034.7" x2="539.7" y2="1034.7"/>
<line x1="532.0" y1="968.6" x2="532.0" y2="991.25"/>
<line x1="524.3" y1="968.6" x2="539.7" y2="968.6"/>
<line x1="524.3" y1="991.25" x2="539.7" y2="991.25"/>
<line x1="575.45" y1="1013.4" x2="575.45" y2="1038.1"/>
<line x1="567.75" y1="1013.4" x2="583.1500000000001" y2="1013.4"/>
<line x1="567.75" y1="1038.1" x2="583.1500000000001" y2="1038.1"/>
<line x1="575.45" y1="936.25" x2="575.45" y2="970.2"/>
<line x1="567.75" y1="936.25" x2="583.1500000000001" y2="936.25"/>
<line x1="567.75" y1="970.2" x2="583.1500000000001" y2="970.2"/>
<line x1="616.4000000000001" y1="1004.5" x2="616.4000000000001" y2="1029.5"/>
<line x1="608.7" y1="1004.5" x2="624.1000000000001" y2="1004.5"/>
<line x1="608.7" y1="1029.5" x2="624.1000000000001" y2="1029.5"/>
<line x1="616.4000000000001" y1="997.0" x2="616.4000000000001" y2="1013.0"/>
<line x1="608.7" y1="997.0" x2="624.1000000000001" y2="997.0"/>
<line x1="608.7" y1="1013.0" x2="624.1000000000001" y2="1013.0"/>
<line x1="657.6" y1="1000.3" x2="657.6" y2="1040"/>
<line x1="649.9" y1="1000.3" x2="665.3000000000001" y2="1000.3"/>
<line x1="649.9" y1="1040" x2="665.3000000000001" y2="1040"/>
<line x1="657.6" y1="936.25" x2="657.6" y2="970.2"/>
<line x1="649.9" y1="936.25" x2="665.3000000000001" y2="936.25"/>
<line x1="649.9" y1="970.2" x2="665.3000000000001" y2="970.2"/>
<line x1="698.7" y1="1012.0" x2="698.7" y2="1040"/>
<line x1="691.0" y1="1012.0" x2="706.4000000000001" y2="1012.0"/>
<line x1="691.0" y1="1040" x2="706.4000000000001" y2="1040"/>
<line x1="698.7" y1="990" x2="698.7" y2="1013.4"/>
<line x1="691.0" y1="990" x2="706.4000000000001" y2="990"/>
<line x1="691.0" y1="1013.4" x2="706.4000000000001" y2="1013.4"/>
<line x1="739.8000000000001" y1="965.5" x2="739.8000000000001" y2="986.0"/>
<line x1="732.1" y1="965.5" x2="747.5000000000001" y2="965.5"/>
<line x1="732.1" y1="986.0" x2="747.5000000000001" y2="986.0"/>
<line x1="739.8000000000001" y1="958.0" x2="739.8000000000001" y2="978.0"/>
<line x1="732.1" y1="958.0" x2="747.5000000000001" y2="958.0"/>
<line x1="732.1" y1="978.0" x2="747.5000000000001" y2="978.0"/>
<line x1="781.1" y1="1011.7" x2="781.1" y2="1034.7"/>
<line x1="773.4" y1="1011.7" x2="788.8000000000001" y2="1011.7"/>
<line x1="773.4" y1="1034.7" x2="788.8000000000001" y2="1034.7"/>
<line x1="781.1" y1="950.3" x2="781.1" y2="997.2"/>
<line x1="773.4" y1="950.3" x2="788.8000000000001" y2="950.3"/>
<line x1="773.4" y1="997.2" x2="788.8000000000001" y2="997.2"/>
<line x1="822.5" y1="988.3" x2="822.5" y2="1024.2"/>
<line x1="814.8" y1="988.3" x2="830.2" y2="988.3"/>
<line x1="814.8" y1="1024.2" x2="830.2" y2="1024.2"/>
<line x1="822.5" y1="941.4" x2="822.5" y2="963.3"/>
<line x1="814.8" y1="941.4" x2="830.2" y2="941.4"/>
<line x1="814.8" y1="963.3" x2="830.2" y2="963.3"/>
<line x1="863.5" y1="1035.6" x2="863.5" y2="1058.2"/>
<line x1="855.8" y1="1035.6" x2="871.2" y2="1035.6"/>
<line x1="855.8" y1="1058.2" x2="871.2" y2="1058.2"/>
<line x1="863.5" y1="1018.7" x2="863.5" y2="1032.5"/>
<line x1="855.8" y1="1018.7" x2="871.2" y2="1018.7"/>
<line x1="855.8" y1="1032.5" x2="871.2" y2="1032.5"/>
<line x1="904.4000000000001" y1="1039.0" x2="904.4000000000001" y2="1048.6"/>
<line x1="896.7" y1="1039.0" x2="912.1000000000001" y2="1039.0"/>
<line x1="896.7" y1="1048.6" x2="912.1000000000001" y2="1048.6"/>
<line x1="904.4000000000001" y1="905.7" x2="904.4000000000001" y2="955.6"/>
<line x1="896.7" y1="905.7" x2="912.1000000000001" y2="905.7"/>
<line x1="896.7" y1="955.6" x2="912.1000000000001" y2="955.6"/>
<line x1="946.2" y1="1021.0" x2="946.2" y2="1038.4"/>
<line x1="938.5" y1="1021.0" x2="953.9000000000001" y2="1021.0"/>
<line x1="938.5" y1="1038.4" x2="953.9000000000001" y2="1038.4"/>
<line x1="946.2" y1="1000.7" x2="946.2" y2="1029.0"/>
<line x1="938.5" y1="1000.7" x2="953.9000000000001" y2="1000.7"/>
<line x1="938.5" y1="1029.0" x2="953.9000000000001" y2="1029.0"/>
<line x1="987.3000000000001" y1="1034.5" x2="987.3000000000001" y2="1053"/>
<line x1="979.6" y1="1034.5" x2="995.0000000000001" y2="1034.5"/>
<line x1="979.6" y1="1053" x2="995.0000000000001" y2="1053"/>
<line x1="987.3000000000001" y1="950" x2="987.3000000000001" y2="984.5"/>
<line x1="979.6" y1="950" x2="995.0000000000001" y2="950"/>
<line x1="979.6" y1="984.5" x2="995.0000000000001" y2="984.5"/>
</g>
<polyline points="159.5,986.7 200.9,980.9 242.0,953.9 283.0,1002.3 324.2,925.4 365.6,1033.4 406.6,970.5 448.0,1005.5 489.1,950.3 530.3,979.5 573.75,950.3 614.7,1005.3 655.9,952.2 697.0,1002.5 738.1,968.0 779.4,971.9 820.8,950.3 861.8,1025.6 902.7,928.9 944.5,1014.8 985.6,965.0" fill="none" stroke="#000" stroke-width="1.9"/>
<ellipse cx="159.5" cy="986.7" rx="9.65" ry="7.65" fill="#fff" stroke="#000" stroke-width="1.8"/>
<ellipse cx="200.9" cy="980.9" rx="9.65" ry="7.65" fill="#fff" stroke="#000" stroke-width="1.8"/>
<ellipse cx="242.0" cy="953.9" rx="9.65" ry="7.65" fill="#fff" stroke="#000" stroke-width="1.8"/>
<ellipse cx="283.0" cy="1002.3" rx="9.65" ry="7.65" fill="#fff" stroke="#000" stroke-width="1.8"/>
<ellipse cx="324.2" cy="925.4" rx="9.65" ry="7.65" fill="#fff" stroke="#000" stroke-width="1.8"/>
<ellipse cx="365.6" cy="1033.4" rx="9.65" ry="7.65" fill="#fff" stroke="#000" stroke-width="1.8"/>
<ellipse cx="406.6" cy="970.5" rx="9.65" ry="7.65" fill="#fff" stroke="#000" stroke-width="1.8"/>
<ellipse cx="448.0" cy="1005.5" rx="9.65" ry="7.65" fill="#fff" stroke="#000" stroke-width="1.8"/>
<ellipse cx="489.1" cy="950.3" rx="9.65" ry="7.65" fill="#fff" stroke="#000" stroke-width="1.8"/>
<ellipse cx="530.3" cy="979.5" rx="9.65" ry="7.65" fill="#fff" stroke="#000" stroke-width="1.8"/>
<ellipse cx="573.75" cy="950.3" rx="9.65" ry="7.65" fill="#fff" stroke="#000" stroke-width="1.8"/>
<ellipse cx="614.7" cy="1005.3" rx="9.65" ry="7.65" fill="#fff" stroke="#000" stroke-width="1.8"/>
<ellipse cx="655.9" cy="952.2" rx="9.65" ry="7.65" fill="#fff" stroke="#000" stroke-width="1.8"/>
<ellipse cx="697.0" cy="1002.5" rx="9.65" ry="7.65" fill="#fff" stroke="#000" stroke-width="1.8"/>
<ellipse cx="738.1" cy="968.0" rx="9.65" ry="7.65" fill="#fff" stroke="#000" stroke-width="1.8"/>
<ellipse cx="779.4" cy="971.9" rx="9.65" ry="7.65" fill="#fff" stroke="#000" stroke-width="1.8"/>
<ellipse cx="820.8" cy="950.3" rx="9.65" ry="7.65" fill="#fff" stroke="#000" stroke-width="1.8"/>
<ellipse cx="861.8" cy="1025.6" rx="9.65" ry="7.65" fill="#fff" stroke="#000" stroke-width="1.8"/>
<ellipse cx="902.7" cy="928.9" rx="9.65" ry="7.65" fill="#fff" stroke="#000" stroke-width="1.8"/>
<ellipse cx="944.5" cy="1014.8" rx="9.65" ry="7.65" fill="#fff" stroke="#000" stroke-width="1.8"/>
<ellipse cx="985.6" cy="965.0" rx="9.65" ry="7.65" fill="#fff" stroke="#000" stroke-width="1.8"/>
<polyline points="159.5,984.4 200.9,938.3 242.0,777.0 283.0,1025.8 324.2,979.1 365.6,991.6 406.6,970.0 448.0,1005.3 489.1,998.75 530.3,1020.6 573.75,1024.0 614.7,1017.0 655.9,1018.6 697.0,1025.9 738.1,975.7 779.4,1020.3 820.8,1004.4 861.8,1043.6 902.7,1043.9 944.5,1029.7 985.6,1042.3" fill="none" stroke="#000" stroke-width="1.9"/>
<ellipse cx="159.5" cy="984.4" rx="10.3" ry="8.5" fill="#000"/>
<ellipse cx="200.9" cy="938.3" rx="10.3" ry="8.5" fill="#000"/>
<ellipse cx="242.0" cy="777.0" rx="10.3" ry="8.5" fill="#000"/>
<ellipse cx="283.0" cy="1025.8" rx="10.3" ry="8.5" fill="#000"/>
<ellipse cx="324.2" cy="979.1" rx="10.3" ry="8.5" fill="#000"/>
<ellipse cx="365.6" cy="991.6" rx="10.3" ry="8.5" fill="#000"/>
<ellipse cx="406.6" cy="970.0" rx="10.3" ry="8.5" fill="#000"/>
<ellipse cx="448.0" cy="1005.3" rx="10.3" ry="8.5" fill="#000"/>
<ellipse cx="489.1" cy="998.75" rx="10.3" ry="8.5" fill="#000"/>
<ellipse cx="530.3" cy="1020.6" rx="10.3" ry="8.5" fill="#000"/>
<ellipse cx="573.75" cy="1024.0" rx="10.3" ry="8.5" fill="#000"/>
<ellipse cx="614.7" cy="1017.0" rx="10.3" ry="8.5" fill="#000"/>
<ellipse cx="655.9" cy="1018.6" rx="10.3" ry="8.5" fill="#000"/>
<ellipse cx="697.0" cy="1025.9" rx="10.3" ry="8.5" fill="#000"/>
<ellipse cx="738.1" cy="975.7" rx="10.3" ry="8.5" fill="#000"/>
<ellipse cx="779.4" cy="1020.3" rx="10.3" ry="8.5" fill="#000"/>
<ellipse cx="820.8" cy="1004.4" rx="10.3" ry="8.5" fill="#000"/>
<ellipse cx="861.8" cy="1043.6" rx="10.3" ry="8.5" fill="#000"/>
<ellipse cx="902.7" cy="1043.9" rx="10.3" ry="8.5" fill="#000"/>
<ellipse cx="944.5" cy="1029.7" rx="10.3" ry="8.5" fill="#000"/>
<ellipse cx="985.6" cy="1042.3" rx="10.3" ry="8.5" fill="#000"/>
<g stroke="#000" stroke-width="1.6">
<line x1="235.70000000000002" y1="728.4" x2="252.1" y2="728.4"/><line x1="243.9" y1="718.9" x2="243.9" y2="737.9"/>
<line x1="523.4" y1="1061.9" x2="539.8000000000001" y2="1061.9"/><line x1="531.6" y1="1052.4" x2="531.6" y2="1071.4"/>
<line x1="567.9" y1="1063.9" x2="584.3000000000001" y2="1063.9"/><line x1="576.1" y1="1054.4" x2="576.1" y2="1073.4"/>
<line x1="815.1999999999999" y1="1044.5" x2="831.6" y2="1044.5"/><line x1="823.4" y1="1035.0" x2="823.4" y2="1054.0"/>
<line x1="895.0" y1="1080.8" x2="911.4000000000001" y2="1080.8"/><line x1="903.2" y1="1071.3" x2="903.2" y2="1090.3"/>
<line x1="979.0" y1="1075.3" x2="995.4000000000001" y2="1075.3"/><line x1="987.2" y1="1065.8" x2="987.2" y2="1084.8"/>
</g>
<text font-weight="bold" font-size="1000" transform="matrix(0.03722,0,0,0.04029,67.84,40.47)">250</text>
<text font-weight="bold" font-size="1000" transform="matrix(0.03722,0,0,0.03985,67.84,161.98)">225</text>
<text font-weight="bold" font-size="1000" transform="matrix(0.03701,0,0,0.03913,67.84,284.19)">200</text>
<text font-weight="bold" font-size="1000" transform="matrix(0.03711,0,0,0.03855,67.70,404.90)">175</text>
<text font-weight="bold" font-size="1000" transform="matrix(0.03711,0,0,0.03855,67.70,525.90)">150</text>
<text font-weight="bold" font-size="1000" transform="matrix(0.03534,0,0,0.04078,165.40,67.40)">A</text>
<text font-weight="bold" font-size="1000" transform="matrix(0.03192,0,0,0.03549,292.00,161.55)">CT</text>
<text font-weight="bold" font-size="1000" transform="matrix(0.03075,0,0,0.03557,292.52,216.30)">P4</text>
<text font-weight="bold" font-size="1000" transform="matrix(0.03199,0,0,0.03542,412.50,442.55)">ND</text>
<text font-weight="bold" font-size="1000" transform="matrix(0.03167,0,0,0.03513,828.51,441.65)">FRD</text>
<text font-weight="bold" font-size="1000" transform="matrix(0.03264,0,0,0.03578,134.88,573.24)">60</text>
<text font-weight="bold" font-size="1000" transform="matrix(0.03264,0,0,0.03578,240.68,574.94)">68</text>
<text font-weight="bold" font-size="1000" transform="matrix(0.03296,0,0,0.03462,356.85,574.16)">76</text>
<text font-weight="bold" font-size="1000" transform="matrix(0.03158,0,0,0.03491,472.71,569.95)">84</text>
<text font-weight="bold" font-size="1000" transform="matrix(0.03106,0,0,0.03462,588.51,573.26)">92</text>
<text font-weight="bold" font-size="1000" transform="matrix(0.03258,0,0,0.03491,695.26,570.35)">100</text>
<text font-weight="bold" font-size="1000" transform="matrix(0.03258,0,0,0.03491,812.46,570.35)">108</text>
<text font-weight="bold" font-size="1000" transform="matrix(0.03312,0,0,0.03549,926.41,571.95)">116</text>
<text font-weight="bold" font-size="1000" transform="matrix(0.03594,0,0,0.03701,473.10,623.33)">Age (Days)</text>
<text font-weight="bold" font-size="1000" transform="matrix(0,-0.04058,0.03435,0,36.15,410.63)">Body Weight (g)</text>
<text font-weight="bold" font-size="1000" transform="matrix(0.03708,0,0,0.04058,61.24,744.87)">200</text>
<text font-weight="bold" font-size="1000" transform="matrix(0.03725,0,0,0.03956,60.99,883.98)">150</text>
<text font-weight="bold" font-size="1000" transform="matrix(0.03646,0,0,0.04189,62.15,1024.55)">100</text>
<text font-weight="bold" font-size="1000" transform="matrix(0.03595,0,0,0.04131,82.38,1164.25)">50</text>
<text font-weight="bold" font-size="1000" transform="matrix(0.03680,0,0,0.04331,966.62,705.32)">B</text>
<text font-weight="bold" font-size="1000" transform="matrix(0.03250,0,0,0.03840,137.16,1214.10)">100</text>
<text font-weight="bold" font-size="1000" transform="matrix(0.03221,0,0,0.03840,299.68,1211.90)">104</text>
<text font-weight="bold" font-size="1000" transform="matrix(0.03222,0,0,0.03840,465.78,1217.60)">108</text>
<text font-weight="bold" font-size="1000" transform="matrix(0.03325,0,0,0.03959,633.00,1218.90)">112</text>
<text font-weight="bold" font-size="1000" transform="matrix(0.03353,0,0,0.03869,797.88,1218.30)">116</text>
<text font-weight="bold" font-size="1000" transform="matrix(0.03258,0,0,0.03869,965.56,1214.80)">120</text>
<text font-weight="bold" font-size="1000" transform="matrix(0.03612,0,0,0.04053,524.70,1275.30)">Age (Days)</text>
<text font-weight="bold" font-size="1000" transform="matrix(0,-0.04258,0.03392,0,27.65,1068.67)">Kj/Day/100 g BW</text>
<text font-size="1000" font-style="italic" transform="matrix(0.03595,0,0,0.03530,190.65,1326.50)">p</text>
<text font-size="1000" font-style="normal" transform="matrix(0.03595,0,0,0.03530,217.21,1326.50)">&lt;</text>
<text font-size="1000" font-style="normal" transform="matrix(0.03595,0,0,0.03530,247.28,1326.50)">0.05</text>
<text font-size="1000" font-style="italic" transform="matrix(0.03595,0,0,0.03530,319.50,1326.50)">vs.</text>
<text font-size="1000" font-style="normal" transform="matrix(0.03595,0,0,0.03530,365.98,1326.50)">CT-FRD values on the same day.</text>
<text font-size="1000" transform="matrix(0.02475,0,0,0.01941,169.54,1310.12)">+</text>
</svg>
</body></html>
